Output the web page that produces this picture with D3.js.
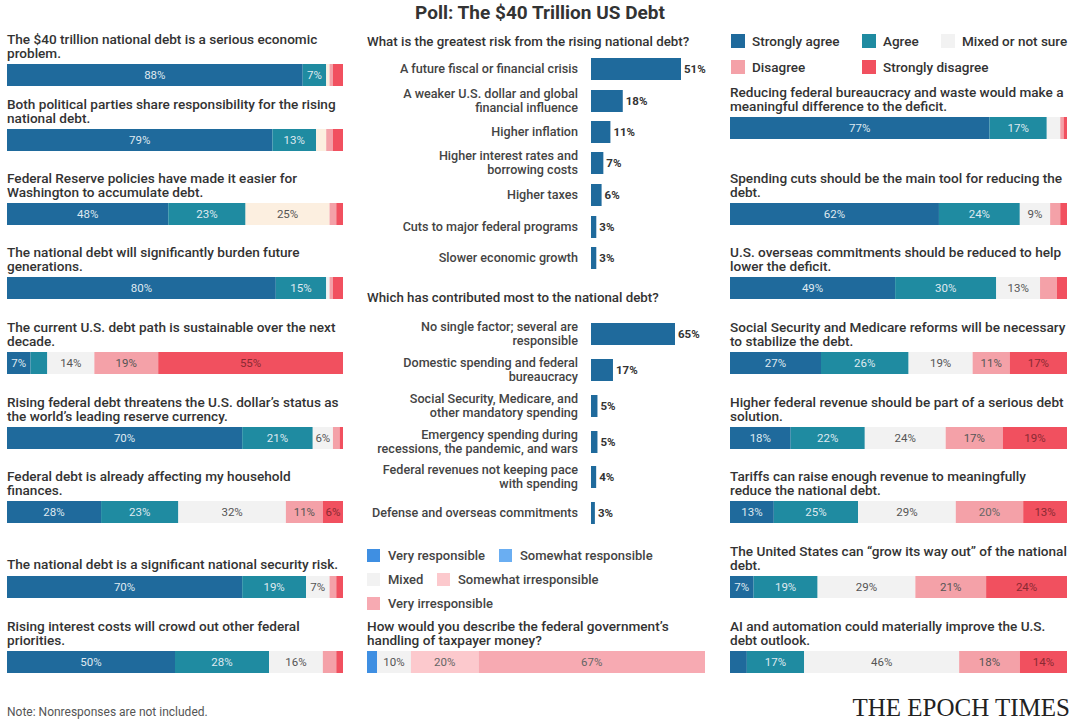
<!DOCTYPE html>
<html><head><meta charset="utf-8">
<script src="https://cdn.jsdelivr.net/npm/d3@7"></script>
<style>
body{margin:0;background:#fff;}
text{font-family:Roboto,"Open Sans",sans-serif;}
</style></head>
<body><div id="chart"></div>
<script>
'use strict';

// ---------- Data ---------- //
var agreeKeys = ['Strongly agree', 'Agree', 'Mixed or not sure', 'Disagree', 'Strongly disagree'];
var agreeColors = ['#1f6a9c', '#1f8ba1', '#f2f2f2', '#f4a1a8', '#f1505f'];

var leftQuestions = [
  ['The $40 trillion national debt is a serious economic', 'problem.'],
  ['Both political parties share responsibility for the rising', 'national debt.'],
  ['Federal Reserve policies have made it easier for', 'Washington to accumulate debt.'],
  ['The national debt will significantly burden future', 'generations.'],
  ['The current U.S. debt path is sustainable over the next', 'decade.'],
  ['Rising federal debt threatens the U.S. dollar\u2019s status as', 'the world\u2019s leading reserve currency.'],
  ['Federal debt is already affecting my household', 'finances.'],
  ['The national debt is a significant national security risk.'],
  ['Rising interest costs will crowd out other federal', 'priorities.']
];
var leftValues = [
  [88, 7, 1, 1, 3],
  [79, 13, 3, 2, 3],
  [48, 23, 25, 2, 2],
  [80, 15, 1, 1, 3],
  [7, 5, 14, 19, 55],
  [70, 21, 6, 2, 1],
  [28, 23, 32, 11, 6],
  [70, 19, 7, 2, 2],
  [50, 28, 16, 4, 2]
];
var leftCream = [true, true, true, false, false, false, false, false, false];

var rightQuestions = [
  ['Reducing federal bureaucracy and waste would make a', 'meaningful difference to the deficit.'],
  ['Spending cuts should be the main tool for reducing the', 'debt.'],
  ['U.S. overseas commitments should be reduced to help', 'lower the deficit.'],
  ['Social Security and Medicare reforms will be necessary', 'to stabilize the debt.'],
  ['Higher federal revenue should be part of a serious debt', 'solution.'],
  ['Tariffs can raise enough revenue to meaningfully', 'reduce the national debt.'],
  ['The United States can \u201cgrow its way out\u201d of the national', 'debt.'],
  ['AI and automation could materially improve the U.S.', 'debt outlook.']
];
var rightValues = [
  [77, 17, 4, 1, 1],
  [62, 24, 9, 3, 2],
  [49, 30, 13, 5, 3],
  [27, 26, 19, 11, 17],
  [18, 22, 24, 17, 19],
  [13, 25, 29, 20, 13],
  [7, 19, 29, 21, 24],
  [5, 17, 46, 18, 14]
];

var riskLabels = [
  ['A future fiscal or financial crisis'],
  ['A weaker U.S. dollar and global', 'financial influence'],
  ['Higher inflation'],
  ['Higher interest rates and', 'borrowing costs'],
  ['Higher taxes'],
  ['Cuts to major federal programs'],
  ['Slower economic growth']
];
var riskValues = [51, 18, 11, 7, 6, 3, 3];

var causeLabels = [
  ['No single factor; several are', 'responsible'],
  ['Domestic spending and federal', 'bureaucracy'],
  ['Social Security, Medicare, and', 'other mandatory spending'],
  ['Emergency spending during', 'recessions, the pandemic, and wars'],
  ['Federal revenues not keeping pace', 'with spending'],
  ['Defense and overseas commitments']
];
var causeValues = [65, 17, 5, 5, 4, 3];

var respKeys = ['Very responsible', 'Somewhat responsible', 'Mixed', 'Somewhat irresponsible', 'Very irresponsible'];
var respColors = ['#3f8fe2', '#6aaef2', '#f2f2f2', '#fcc9cd', '#f7aab2'];
var respValues = [3, 0, 10, 20, 67];

// ---------- Layout ---------- //
var width = 1080, height = 720;
var svg = d3.select('#chart').append('svg').attr('width', width).attr('height', height);

svg.append('text').attr('x', 540).attr('y', 19).attr('text-anchor', 'middle')
  .attr('font-size', 19).attr('font-weight', 700).attr('fill', '#333')
  .text('Poll: The $40 Trillion US Debt');

function stackedBar(g, x0, x1, top, values, colors, barH) {
  var x = d3.scaleLinear().domain([0, 100]).range([x0, x1]);
  var cum = 0;
  values.forEach(function (v, i) {
    var a = cum; cum += v;
    if (v <= 0) return;
    g.append('rect').attr('x', x(a)).attr('y', top).attr('width', x(cum) - x(a)).attr('height', barH)
      .attr('fill', colors[i]);
    if (v >= 6) {
      g.append('text').attr('x', (x(a) + x(cum)) / 2).attr('y', top + barH / 2 + 4)
        .attr('text-anchor', 'middle').attr('font-size', 11.5)
        .attr('fill', i < 2 ? '#dfe9f0' : (i === 4 ? '#8a2a33' : '#555'))
        .text(v + '%');
    }
  });
}

function question(g, x, top, lines) {
  lines.forEach(function (l, i) {
    var y = lines.length === 2 ? top - 20 + i * 14 : top - 7;
    g.append('text').attr('x', x).attr('y', y).attr('font-size', 13.6).attr('font-weight', 500)
      .attr('fill', '#333').text(l);
  });
}

// left column
var leftTops = [64, 129, 203, 277, 352, 427, 501, 576, 651];
var gl = svg.append('g');
leftValues.forEach(function (vals, i) {
  var cols = agreeColors.slice();
  if (leftCream[i]) cols[2] = '#fcefe0';
  question(gl, 7, leftTops[i], leftQuestions[i]);
  stackedBar(gl, 7, 343, leftTops[i], vals, cols, 22);
});

// right column
var rightTops = [117, 203, 277, 352, 427, 501, 576, 651];
var gr = svg.append('g');
rightValues.forEach(function (vals, i) {
  question(gr, 730, rightTops[i], rightQuestions[i]);
  stackedBar(gr, 730, 1067, rightTops[i], vals, agreeColors, 22);
});

// legend (agree scale)
var legPos = [[731, 34], [862, 34], [941, 34], [731, 60], [862, 60]];
agreeKeys.forEach(function (k, i) {
  var p = legPos[i];
  svg.append('rect').attr('x', p[0]).attr('y', p[1]).attr('width', 14).attr('height', 14).attr('fill', agreeColors[i]);
  svg.append('text').attr('x', p[0] + 21).attr('y', p[1] + 12).attr('font-size', 13.5).attr('font-weight', 500)
    .attr('fill', '#333').text(k);
});

// middle horizontal bar charts
function simpleBars(title, titleY, labels, values, centers, maxW) {
  var g = svg.append('g');
  g.append('text').attr('x', 367).attr('y', titleY).attr('font-size', 13.3).attr('font-weight', 500)
    .attr('fill', '#333').text(title);
  var x = d3.scaleLinear().domain([0, d3.max(values)]).range([0, maxW]);
  values.forEach(function (v, i) {
    var c = centers[i];
    g.append('rect').attr('x', 591).attr('y', c - 11).attr('width', x(v)).attr('height', 22).attr('fill', '#1f6a9c');
    g.append('text').attr('x', 591 + x(v) + 3).attr('y', c + 4).attr('font-size', 11.5).attr('font-weight', 700)
      .attr('fill', '#333').text(v + '%');
    var ls = labels[i];
    ls.forEach(function (l, j) {
      var y = c + 4 + (j - (ls.length - 1) / 2) * 14;
      g.append('text').attr('x', 578).attr('y', y).attr('text-anchor', 'end').attr('font-size', 12.6)
        .attr('font-weight', 500).attr('fill', '#444').text(l);
    });
  });
}
simpleBars('What is the greatest risk from the rising national debt?', 46, riskLabels, riskValues,
  [69, 101, 132, 163, 195, 227, 258], 90);
simpleBars('Which has contributed most to the national debt?', 302, causeLabels, causeValues,
  [334, 370, 406, 442, 477, 513], 84);

// responsibility legend + bar
var respLeg = [[367, 549], [499, 549], [367, 573], [437, 573], [367, 597]];
respKeys.forEach(function (k, i) {
  var p = respLeg[i];
  svg.append('rect').attr('x', p[0]).attr('y', p[1]).attr('width', 13).attr('height', 13).attr('fill', respColors[i]);
  svg.append('text').attr('x', p[0] + 21).attr('y', p[1] + 11).attr('font-size', 13).attr('font-weight', 500)
    .attr('fill', '#444').text(k);
});
question(svg, 367, 651, ['How would you describe the federal government\u2019s', 'handling of taxpayer money?']);
stackedBar(svg, 367, 705, 651, respValues, respColors, 22);
svg.selectAll('text').filter(function () { return this.textContent === '67%' || this.textContent === '20%'; })
  .attr('fill', '#666');

// footer
svg.append('text').attr('x', 7).attr('y', 716).attr('font-size', 12).attr('fill', '#555')
  .text('Note: Nonresponses are not included.');
svg.append('text').attr('x', 1070).attr('y', 716).attr('text-anchor', 'end')
  .style('font-family', '"Liberation Serif", serif').attr('font-size', 25).attr('fill', '#222')
  .text('THE EPOCH TIMES');
</script>
</body></html>
